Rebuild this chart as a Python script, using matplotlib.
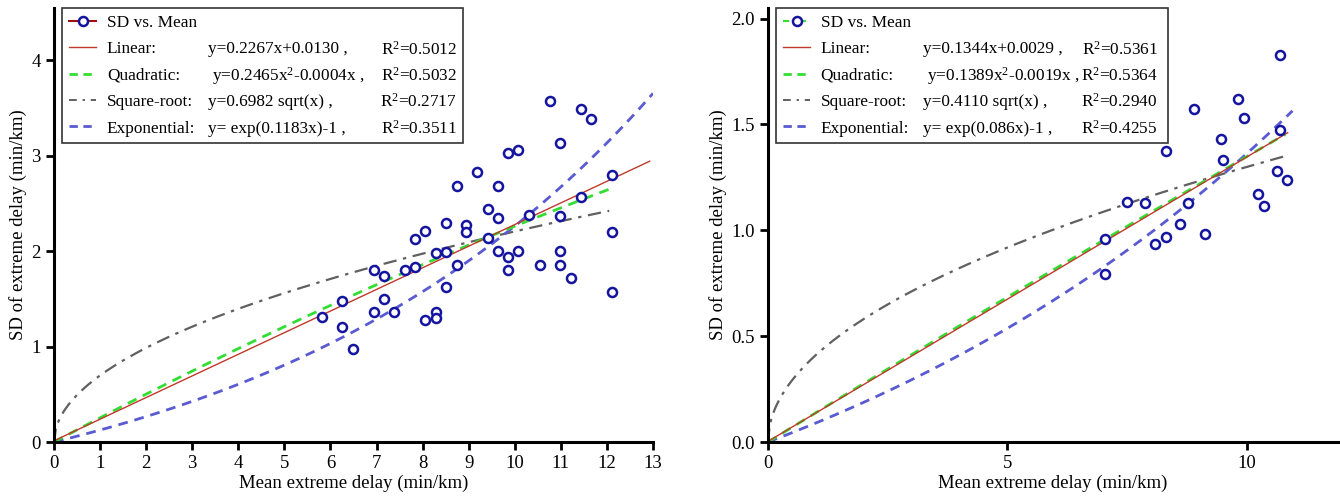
import numpy as np
import matplotlib.pyplot as plt
from matplotlib.lines import Line2D

plt.rcParams['font.family'] = ['Liberation Serif', 'DejaVu Serif']
plt.rcParams['mathtext.fontset'] = 'custom'
plt.rcParams['mathtext.rm'] = 'Liberation Serif'
plt.rcParams['mathtext.it'] = 'Liberation Serif:italic'

# left panel: mean vs SD of extreme delay
mean_a = [10.76, 11.43, 11.66, 10.98, 9.85, 10.07, 9.18, 8.74, 9.63, 12.11,
          11.43, 9.41, 9.63, 10.31, 10.98, 8.51, 8.95, 8.95, 8.05, 7.83,
          9.41, 12.11, 8.28, 8.51, 9.63, 9.85, 10.07, 10.98, 8.74, 10.54,
          10.98, 9.85, 11.21, 6.94, 7.16, 7.61, 7.83, 8.51, 12.11, 6.26,
          7.16, 5.81, 6.94, 7.38, 8.28, 8.28, 8.05, 6.26, 6.48]
sd_a = [3.58, 3.49, 3.39, 3.14, 3.03, 3.06, 2.83, 2.68, 2.68, 2.80,
        2.57, 2.44, 2.35, 2.38, 2.37, 2.30, 2.27, 2.20, 2.21, 2.13,
        2.14, 2.20, 1.98, 1.99, 2.00, 1.94, 2.00, 2.00, 1.86, 1.86,
        1.86, 1.80, 1.72, 1.80, 1.74, 1.80, 1.84, 1.63, 1.57, 1.48,
        1.50, 1.31, 1.36, 1.36, 1.36, 1.30, 1.28, 1.21, 0.98]

# right panel
mean_b = [10.69, 9.81, 9.94, 10.69, 8.90, 9.46, 8.31, 9.49, 10.62, 10.84,
          10.24, 10.35, 7.49, 7.87, 8.76, 8.60, 9.13, 8.31, 8.08, 7.04, 7.04]
sd_b = [1.83, 1.62, 1.53, 1.475, 1.574, 1.43, 1.374, 1.33, 1.28, 1.24,
        1.17, 1.115, 1.133, 1.13, 1.129, 1.03, 0.984, 0.968, 0.933, 0.958, 0.792]

# fitted curves (linear, quadratic a*x + b*x^2, sqrt, exp)
lin_a, quad_a, sqrt_a, exp_a = [0.2267, 0.0130], [0.2573, -0.0031], 0.6982, 0.1183
lin_b, quad_b, sqrt_b, exp_b = [0.1344, 0.0029], [0.1389, -0.0004], 0.4110, 0.086

names = ['Linear:', 'Quadratic:', 'Square-root:', 'Exponential:']
eqs_a = ['y=0.2267x+0.0130 ,', ' y=0.2465x$^2$-0.0004x ,', 'y=0.6982 sqrt(x) ,', 'y= exp(0.1183x)-1 ,']
r2_a = ['R$^2$=0.5012', 'R$^2$=0.5032', 'R$^2$=0.2717', 'R$^2$=0.3511']
eqs_b = ['y=0.1344x+0.0029 ,', ' y=0.1389x$^2$-0.0019x ,', 'y=0.4110 sqrt(x) ,', 'y= exp(0.086x)-1 ,']
r2_b = ['R$^2$=0.5361', 'R$^2$=0.5364', 'R$^2$=0.2940', 'R$^2$=0.4255']

c_pts = '#1414a0'
c_lin = '#c0392b'
c_quad = '#33dd33'
c_sqrt = '#606060'
c_exp = '#5a5ad2'

fig = plt.figure(figsize=(13.4, 4.98), dpi=100)
ax1 = fig.add_axes([0.0403, 0.1124, 0.447, 0.8715])
ax2 = fig.add_axes([0.5731, 0.1124, 0.4254, 0.8715])


def draw_panel(ax, mx, sy, lin, quad, sq, ex, xmax_fit, xmax_lin, xmax_exp, sd_handle):
    x = np.linspace(0, xmax_fit, 300)
    xl = np.linspace(0, xmax_lin, 300)
    xe = np.linspace(0, xmax_exp, 300)
    ax.plot(x, np.sqrt(x) * sq, color=c_sqrt, lw=1.6, ls=(0, (6, 3, 1.5, 3)))
    ax.plot(xe, np.exp(ex * xe) - 1, color=c_exp, lw=2, ls=(0, (3.5, 2.5)))
    ax.plot(x, quad[0] * x + quad[1] * x ** 2, color=c_quad, lw=2, ls=(0, (3.5, 2.5)))
    ax.plot(xl, lin[0] * xl + lin[1], color=c_lin, lw=1)
    ax.plot(mx, sy, 'o', ls='none', mfc='white', mec=c_pts, ms=6.5, mew=1.8)

    for side in ['top', 'right']:
        ax.spines[side].set_visible(False)
    for side in ['left', 'bottom']:
        ax.spines[side].set_linewidth(2.2)
    ax.tick_params(direction='out', length=6, width=2, labelsize=13.5)

    handles = [
        sd_handle,
        Line2D([], [], color=c_lin, lw=1),
        Line2D([], [], color=c_quad, lw=2, ls=(0, (3, 2))),
        Line2D([], [], color=c_sqrt, lw=1.4, ls=(0, (4, 3, 1.2, 3))),
        Line2D([], [], color=c_exp, lw=2, ls=(0, (3, 2))),
    ]
    return handles


h_a = Line2D([], [], color='#a01010', lw=1.5, marker='o', mfc='white', mec=c_pts, ms=6.5, mew=1.8)
h_b = Line2D([], [], color=c_quad, lw=1.5, ls=(0, (3, 2, 1, 2)), marker='o', mfc='white', mec=c_pts, ms=6.5, mew=1.8)

hand_a = draw_panel(ax1, mean_a, sd_a, lin_a, quad_a, sqrt_a, exp_a, 12.05, 12.93, 13.0, h_a)
hand_b = draw_panel(ax2, mean_b, sd_b, lin_b, quad_b, sqrt_b, exp_b, 10.8, 10.85, 10.95, h_b)

ax1.set_xlim(0, 13)
ax1.set_ylim(0, 4.55)
ax1.set_xticks(range(0, 14))
ax1.set_yticks(range(0, 5))

ax2.set_xlim(0, 11.9)
ax2.set_ylim(0, 2.05)
ax2.set_xticks([0, 5, 10])
ax2.set_yticks([0, 0.5, 1.0, 1.5, 2.0])
ax2.yaxis.set_major_formatter(plt.FormatStrFormatter('%.1f'))

for ax in (ax1, ax2):
    ax.set_xlabel('Mean extreme delay (min/km)', fontsize=13.5, labelpad=2)
    ax.set_ylabel('SD of extreme delay (min/km)', fontsize=13.5, labelpad=3)

legends = []
for ax, hand, box in [(ax1, hand_a, (0.0134, 0, 0.669, 1.0)), (ax2, hand_b, (0.014, 0, 0.688, 1.0))]:
    leg = ax.legend(hand, ['SD vs. Mean'] + names, loc='upper left', bbox_to_anchor=box,
                    mode='expand', borderaxespad=0, fontsize=12.4, handlelength=1.6,
                    handletextpad=0.6, labelspacing=0.6, borderpad=0.4, fancybox=False,
                    edgecolor='#333333', framealpha=1)
    leg.get_frame().set_linewidth(1.2)
    legends.append(leg)

fig.canvas.draw()
# equation and R^2 columns next to the legend entries
for ax, leg, eqs, r2s, ex0, rx1 in [(ax1, legends[0], eqs_a, r2_a, 0.257, 0.673),
                                    (ax2, legends[1], eqs_b, r2_b, 0.272, 0.684)]:
    inv = ax.transAxes.inverted()
    for t, eq, r2 in zip(leg.get_texts()[1:], eqs, r2s):
        bb = t.get_window_extent()
        yc = inv.transform((0, (bb.y0 + bb.y1) / 2))[1]
        ax.text(ex0, yc, eq, transform=ax.transAxes, fontsize=12.4, va='center', ha='left', zorder=10)
        ax.text(rx1, yc, r2, transform=ax.transAxes, fontsize=12.4, va='center', ha='right', zorder=10)

fig.savefig('out.png', dpi=100)
